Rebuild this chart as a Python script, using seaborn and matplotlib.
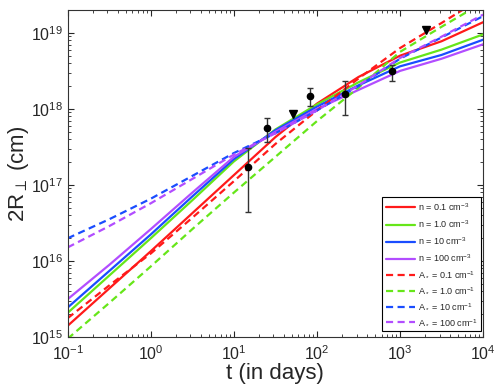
import numpy as np
import pandas as pd
import seaborn as sns
import matplotlib
matplotlib.use("Agg")
import matplotlib.pyplot as plt

log_t = [-1.0, -0.5, 0.0, 0.5, 1.0, 1.5, 2.0, 2.5, 3.0, 3.5, 4.0]

# log10(2R) for ISM models (solid)
n01 = [15.15, 15.64, 16.13, 16.63, 17.13, 17.63, 18.07, 18.42, 18.70, 18.89, 19.14]
n1 = [15.32, 15.81, 16.30, 16.80, 17.31, 17.73, 18.06, 18.35, 18.61, 18.78, 18.98]
n10 = [15.39, 15.87, 16.35, 16.85, 17.34, 17.72, 18.03, 18.31, 18.56, 18.71, 18.91]
n100 = [15.50, 15.95, 16.42, 16.90, 17.37, 17.70, 18.00, 18.25, 18.50, 18.66, 18.85]

# log10(2R) for wind models (dashed)
a01 = [15.25, 15.68, 16.10, 16.57, 17.05, 17.54, 17.98, 18.40, 18.80, 19.13, 19.47]
a1 = [14.98, 15.45, 15.93, 16.42, 16.90, 17.37, 17.84, 18.28, 18.75, 19.08, 19.40]
a10 = [16.30, 16.55, 16.82, 17.12, 17.42, 17.68, 17.98, 18.30, 18.66, 18.94, 19.22]
a100 = [16.18, 16.46, 16.76, 17.08, 17.40, 17.68, 17.98, 18.31, 18.67, 18.95, 19.24]

# measurements
obs_t = [14.9, 25, 83, 217, 805]
obs_r = [1.74e17, 5.7e17, 1.5e18, 1.55e18, 3.2e18]
obs_lo = [4.4e16, 3.7e17, 1.1e18, 8.3e17, 2.3e18]
obs_hi = [3.1e17, 7.6e17, 1.9e18, 2.3e18, 3.8e18]

# upper limits
lim_t = [51, 2030]
lim_r = [8.7e17, 1.1e19]

labels = ["n = 0.1 cm$^{-3}$", "n = 1.0 cm$^{-3}$", "n = 10 cm$^{-3}$", "n = 100 cm$^{-3}$",
          "A$_*$ = 0.1 cm$^{-1}$", "A$_*$ = 1.0 cm$^{-1}$", "A$_*$ = 10 cm$^{-1}$", "A$_*$ = 100 cm$^{-1}$"]
colors = ["#ff1a1a", "#66e619", "#1a4dff", "#b24dff"]

sns.set_style("ticks")
plt.rcParams['font.family'] = ['Liberation Sans', 'DejaVu Sans']
plt.rcParams['mathtext.fontset'] = 'custom'
plt.rcParams['mathtext.rm'] = 'Liberation Sans'
plt.rcParams['mathtext.it'] = 'Liberation Sans:italic'

fig, ax = plt.subplots(figsize=(4.98, 3.84), dpi=100)
fig.subplots_adjust(left=0.136, right=0.970, bottom=0.122, top=0.974)

t = 10 ** np.array(log_t)
series = [n01, n1, n10, n100, a01, a1, a10, a100]
for i, (vals, lab) in enumerate(zip(series, labels)):
    ls = '-' if i < 4 else (0, (3.2, 2.0))
    sns.lineplot(x=t, y=10 ** np.array(vals), ax=ax, color=colors[i % 4],
                 linestyle=ls, linewidth=1.6, label=lab)

obs_r = np.array(obs_r)
yerr = [obs_r - np.array(obs_lo), np.array(obs_hi) - obs_r]
ax.errorbar(obs_t, obs_r, yerr=yerr, fmt='o', color='k', ecolor='#333333',
            markersize=4.5, capsize=2, elinewidth=1, capthick=1, zorder=5)
ax.plot(lim_t, lim_r, 'v', color='k', markersize=6, linestyle='none', zorder=5)

ax.set_xscale('log')
ax.set_yscale('log')
ax.set_xlim(1e-1, 1e4)
ax.set_ylim(1e15, 2e19)

ax.tick_params(which='both', direction='in', top=True, right=True, labelsize=11.5)
ax.tick_params(axis='x', which='both', pad=5)
ax.tick_params(which='major', length=4)
ax.tick_params(which='minor', length=2)
for s in ax.spines.values():
    s.set_color('#333333')
    s.set_linewidth(0.8)

ax.set_xlabel("t (in days)", fontsize=16, labelpad=0)
ax.set_ylabel("2R$_{\\perp}$ (cm)", fontsize=16, labelpad=0)

leg = ax.legend(loc='lower right', bbox_to_anchor=(0.995, 0.018), borderaxespad=0,
                fontsize=6.5, labelspacing=0.62, handlelength=3.2, handletextpad=0.3,
                fancybox=False, edgecolor='k', framealpha=1)
leg.get_frame().set_linewidth(0.8)

fig.savefig("out.png", dpi=100)
